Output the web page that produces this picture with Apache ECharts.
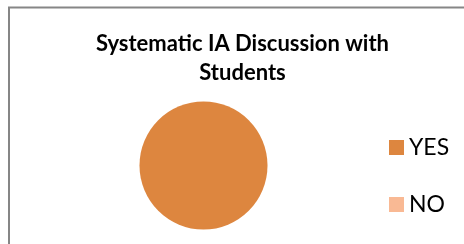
<!DOCTYPE html>
<html>
<head>
<meta charset="utf-8">
<script src="https://cdn.jsdelivr.net/npm/echarts@6/dist/echarts.min.js"></script>
<style>
  html, body { margin: 0; padding: 0; background: #fff; }
  #chart { width: 464px; height: 244px; }
</style>
</head>
<body>
<div id="chart"></div>
<script>
// data
var categories = ['YES', 'NO'];
var values = [100, 0];
var colors = ['#DD863F', '#F9B994'];

var myChart = echarts.init(document.getElementById('chart'));

var pieData = categories.map(function (name, i) {
  return { name: name, value: values[i], itemStyle: { color: colors[i] } };
});

var option = {
  animation: false,
  title: {
    text: 'Systematic IA Discussion with\nStudents',
    left: 242.5,
    top: 29,
    padding: 0,
    textAlign: 'center',
    textStyle: {
      fontFamily: 'Lato',
      fontWeight: 'bold',
      fontSize: 22,
      lineHeight: 29,
      color: '#000'
    }
  },
  legend: {
    orient: 'vertical',
    left: 389,
    top: 136,
    padding: 0,
    icon: 'rect',
    itemWidth: 15,
    itemHeight: 15,
    itemGap: 34,
    data: categories,
    textStyle: {
      fontFamily: 'Lato',
      fontSize: 23,
      lineHeight: 15,
      color: '#000'
    }
  },
  graphic: [{
    type: 'rect',
    shape: { x: 9, y: 7.5, width: 480, height: 260 },
    style: { fill: 'none', stroke: '#868686', lineWidth: 2 },
    silent: true
  }],
  series: [{
    name: 'IA Discussion',
    type: 'pie',
    center: [203.5, 165.5],
    radius: 64,
    label: { show: false },
    labelLine: { show: false },
    itemStyle: { borderWidth: 0 },
    data: pieData
  }]
};
myChart.setOption(option);
</script>
</body>
</html>
